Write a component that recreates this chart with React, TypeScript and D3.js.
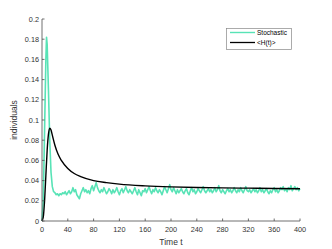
import React from "react";
import * as d3 from "d3";

const W = 332;
const H = 249;
const margin = { top: 19, right: 32, bottom: 28, left: 42 };

// stochastic run: early spike then noisy plateau (t step 2 after t=20)
const stochEarlyT = [0, 2, 4, 6, 7, 8, 10, 12, 14, 16, 18];
const stochEarlyV = [0, 0.02, 0.09, 0.16, 0.182, 0.175, 0.13, 0.08, 0.048, 0.034, 0.029];
const stochTail = [
  0.028, 0.026, 0.027, 0.025, 0.027, 0.026, 0.028, 0.027, 0.029, 0.026, 0.028, 0.030, 0.027, 0.029, 0.033, 0.029, 0.031, 0.026, 0.024, 0.022, 0.027,
  0.030, 0.033, 0.029, 0.031, 0.028, 0.030, 0.027, 0.032, 0.035, 0.030, 0.034, 0.038, 0.033, 0.030, 0.028, 0.031, 0.029, 0.033, 0.030, 0.027,
  0.029, 0.032, 0.030, 0.027, 0.031, 0.028, 0.030, 0.033, 0.029, 0.026, 0.030, 0.032, 0.028, 0.031, 0.034, 0.030, 0.028, 0.031, 0.029, 0.027,
  0.030, 0.033, 0.029, 0.026, 0.031, 0.028, 0.025, 0.030, 0.029, 0.032, 0.028, 0.031, 0.034, 0.030, 0.027, 0.031, 0.029, 0.033, 0.030, 0.028,
  0.031, 0.029, 0.026, 0.030, 0.034, 0.031, 0.028, 0.032, 0.036, 0.031, 0.029, 0.033, 0.030, 0.027, 0.031, 0.028, 0.030, 0.032, 0.029, 0.027,
  0.030, 0.032, 0.028, 0.026, 0.030, 0.033, 0.029, 0.031, 0.027, 0.029, 0.032, 0.030, 0.028, 0.031, 0.034, 0.030, 0.028, 0.030, 0.032, 0.029,
  0.031, 0.028, 0.030, 0.033, 0.029, 0.031, 0.035, 0.030, 0.028, 0.031, 0.029, 0.027, 0.030, 0.032, 0.029, 0.031, 0.028, 0.030, 0.033, 0.030,
  0.028, 0.031, 0.029, 0.033, 0.030, 0.028, 0.031, 0.034, 0.030, 0.029, 0.031, 0.028, 0.030, 0.032, 0.029, 0.031, 0.028, 0.030, 0.033, 0.029,
  0.031, 0.028, 0.030, 0.032, 0.029, 0.027, 0.030, 0.028, 0.031, 0.033, 0.029, 0.031, 0.028, 0.030, 0.033, 0.031, 0.034, 0.030, 0.032, 0.029,
  0.033, 0.031, 0.035, 0.030, 0.032, 0.034, 0.031, 0.033, 0.030, 0.032,
];

// mean-field <H(t)>
const meanT = [0, 2, 4, 6, 8, 10, 12, 14, 16, 20, 25, 30, 40, 50, 60, 80, 100, 120, 160, 200, 240, 280, 320, 360, 400];
const meanV = [0, 0.004, 0.02, 0.045, 0.07, 0.086, 0.092, 0.09, 0.085, 0.075, 0.066, 0.06, 0.052, 0.047, 0.044, 0.04, 0.038, 0.0365, 0.0348, 0.0338, 0.0332, 0.0328, 0.0325, 0.0322, 0.032];

const xTicks = [0, 40, 80, 120, 160, 200, 240, 280, 320, 360, 400];
const yTicks = [0, 0.02, 0.04, 0.06, 0.08, 0.1, 0.12, 0.14, 0.16, 0.18, 0.2];

const CYAN = "#58e3b6";
const AXIS = "#4d4d4d";
const FONT = "Liberation Sans, Arial, sans-serif";

export default function App() {
  const x = d3.scaleLinear().domain([0, 400]).range([margin.left, W - margin.right]);
  const y = d3.scaleLinear().domain([0, 0.2]).range([H - margin.bottom, margin.top]);

  const stoch: [number, number][] = stochEarlyT.map((t, i) => [t, stochEarlyV[i]]);
  stochTail.forEach((v, i) => stoch.push([20 + i * 2, v]));
  const mean: [number, number][] = meanT.map((t, i) => [t, meanV[i]]);

  const meanPath = d3
    .line<[number, number]>()
    .x((d) => x(d[0]))
    .y((d) => y(d[1]))
    .curve(d3.curveMonotoneX)(mean) || "";
  const stochPath = d3
    .line<[number, number]>()
    .x((d) => x(d[0]))
    .y((d) => y(d[1]))(stoch) || "";

  const y0 = y(0);
  const x0 = x(0);

  return (
    <svg width={W} height={H} style={{ position: "absolute", left: 0, top: 0, background: "#fff" }}>
      <path d={stochPath} fill="none" stroke={CYAN} strokeWidth={1.6} strokeLinejoin="round" />
      <path d={meanPath} fill="none" stroke="#000" strokeWidth={1.4} />

      {/* axes */}
      <line x1={x0} x2={x(400)} y1={y0} y2={y0} stroke={AXIS} strokeWidth={0.8} />
      <line x1={x0} x2={x0} y1={y0} y2={y(0.2)} stroke={AXIS} strokeWidth={0.8} />
      {xTicks.map((t) => (
        <g key={t}>
          <line x1={x(t)} x2={x(t)} y1={y0} y2={y0 - 2.5} stroke={AXIS} strokeWidth={0.8} />
          <text x={x(t)} y={y0 + 11} fontSize={7.3} textAnchor="middle" fill="#333" fontFamily={FONT}>
            {t}
          </text>
        </g>
      ))}
      {yTicks.map((t) => (
        <g key={t}>
          <line x1={x0} x2={x0 + 2.5} y1={y(t)} y2={y(t)} stroke={AXIS} strokeWidth={0.8} />
          <text x={x0 - 3} y={y(t) + 2.5} fontSize={7.3} textAnchor="end" fill="#333" fontFamily={FONT}>
            {d3.format("~g")(t)}
          </text>
        </g>
      ))}
      <text x={(x0 + x(400)) / 2} y={245} fontSize={8.5} textAnchor="middle" fill="#333" fontFamily={FONT}>
        Time t
      </text>
      <text
        transform={`translate(17,${(y0 + y(0.2)) / 2}) rotate(-90)`}
        fontSize={8.5}
        textAnchor="middle"
        fill="#333"
        fontFamily={FONT}
      >
        individuals
      </text>

      {/* legend */}
      <rect x={226.5} y={28.5} width={65} height={21} fill="#fff" stroke="#888" strokeWidth={0.7} />
      <line x1={230} x2={255} y1={32.5} y2={32.5} stroke={CYAN} strokeWidth={1.4} />
      <line x1={230} x2={255} y1={42.5} y2={42.5} stroke="#000" strokeWidth={1.3} />
      <text x={257} y={35} fontSize={6.5} fill="#000" fontFamily={FONT}>Stochastic</text>
      <text x={257} y={45} fontSize={6.5} fill="#000" fontFamily={FONT}>{"<H(t)>"}</text>
    </svg>
  );
}
